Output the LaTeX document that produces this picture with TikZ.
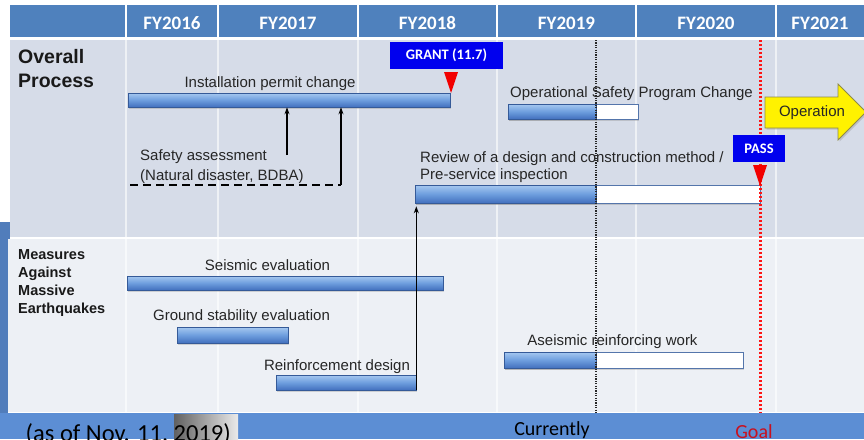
\documentclass[tikz,border=0pt]{standalone}
\usepackage{fontspec}
\setmainfont{Liberation Sans}
\newfontfamily\slidefont{Carlito}
\usetikzlibrary{arrows.meta,shadows}

\definecolor{headblue}{RGB}{79,129,189}
\definecolor{slideblue}{RGB}{92,142,212}
\definecolor{paneltop}{RGB}{214,220,232}
\definecolor{panelbot}{RGB}{237,240,245}
\definecolor{barlight}{RGB}{166,200,240}
\definecolor{barmid}{RGB}{110,158,222}
\definecolor{bardark}{RGB}{66,112,190}
\definecolor{boxblue}{RGB}{0,0,238}
\definecolor{goalred}{RGB}{255,20,20}
\definecolor{goaltext}{RGB}{200,16,30}

\tikzset{
  ganttbar/.style={rectangle, inner sep=0pt, draw=bardark!80!black, line width=0.6,
    top color=barlight, bottom color=bardark, middle color=barmid,
    drop shadow={opacity=0.3, shadow xshift=1pt, shadow yshift=-1.5pt}},
  openbar/.style={rectangle, inner sep=0pt, draw=bardark!70!gray, line width=0.8, fill=white,
    drop shadow={opacity=0.3, shadow xshift=1pt, shadow yshift=-1.5pt}},
  lbl/.style={inner sep=0pt, text=black!85, font=\fontsize{15}{17}\selectfont},
  rowlbl/.style={inner sep=0pt, align=left, anchor=north west, text=black!90},
  headtext/.style={anchor=base, inner sep=0pt, text=white, font=\slidefont\bfseries\fontsize{19}{22}\selectfont},
  tagbox/.style={rectangle, fill=boxblue, inner sep=0pt, text=white, font=\slidefont\bfseries\fontsize{14.5}{17}\selectfont},
  marker/.style={fill=red!95!black},
  feed/.style={-{Stealth[length=7pt,width=5pt]}, line width=1.2},
  nowline/.style={black!85, line width=1.5, dash pattern=on 1.2pt off 1.2pt},
  goalline/.style={goalred, line width=3, dash pattern=on 2.4pt off 1.6pt},
  bottomtext/.style={inner sep=0pt, font=\slidefont\fontsize{20}{24}\selectfont}
}

\begin{document}
\begin{tikzpicture}[x=1pt,y=-1pt]
  \clip (0,0) rectangle (864,439);
  \fill[white] (0,0) rectangle (864,439);
  \fill[slideblue!88!black] (0,222) rectangle (10,439);
  \fill[slideblue] (0,413) rectangle (864,439);
  \shade[left color=black!62, right color=black!8] (174,414) rectangle (238,439);

  \fill[headblue] (10,5) rectangle (864,37);
  \fill[paneltop] (10,40) rectangle (864,237);
  \fill[panelbot] (8,239) rectangle (864,412);
  \draw[white, line width=1.5] (8,412.5) -- (864,412.5);
  \foreach \x in {126,218,358,497,636,776} {
    \draw[white, line width=2] (\x,5) -- (\x,37);
    \draw[white, opacity=.6, line width=1.5] (\x,40) -- (\x,412);
  }
  \foreach \x/\fy in {172/FY2016,288/FY2017,427.5/FY2018,566.5/FY2019,706/FY2020,820/FY2021}
    \node[headtext] at (\x,29) {\fy};

  \node[rowlbl, font=\bfseries\fontsize{19.5}{24}\selectfont] (overall) at (18,49) {Overall\\Process};
  \node[rowlbl, font=\bfseries\fontsize{14.5}{18}\selectfont] (quake) at (18,249) {Measures\\Against\\Massive\\Earthquakes};

  % overall process
  \node[lbl, anchor=base] (permitlbl) at (270,87) {Installation permit change};
  \node[ganttbar, minimum width=322, minimum height=14] (permit) at (289,100) {};
  \node[lbl, anchor=north west, align=left, font=\fontsize{15}{20}\selectfont] (safety) at (140,149)
    {Safety assessment\\(Natural disaster, BDBA)};
  \coordinate (dashstart) at (130,185);
  \coordinate (dashend) at (341,185);
  \coordinate (safetyup) at (287,155);
  \draw[line width=2, dash pattern=on 8pt off 5pt] (dashstart) -- (dashend);
  \draw[feed] (dashend) -- (dashend |- permit.south);
  \draw[feed] (safetyup) -- (safetyup |- permit.south);

  \node[lbl, anchor=base west] (opslbl) at (510,97) {Operational Safety Program Change};
  \node[openbar, minimum width=130, minimum height=15] (ops) at (573,111.5) {};
  \node[ganttbar, minimum width=88, minimum height=15] (opsdone) at (552,111.5) {};

  \node[lbl, anchor=north west, align=left] (reviewlbl) at (420,151)
    {Review of a design and construction method /\\Pre-service inspection};
  \node[openbar, minimum width=345, minimum height=18] (review) at (587.5,194) {};
  \node[ganttbar, minimum width=181, minimum height=18] (reviewdone) at (505.5,194) {};

  % measures against earthquakes
  \node[lbl, anchor=base] (seismiclbl) at (267.5,270) {Seismic evaluation};
  \node[ganttbar, minimum width=316, minimum height=14] (seismic) at (285,283) {};
  \node[lbl, anchor=base] (groundlbl) at (241.5,320) {Ground stability evaluation};
  \node[ganttbar, minimum width=111, minimum height=16] (ground) at (232.5,335) {};
  \node[lbl, anchor=base] (reinflbl) at (337,370) {Reinforcement design};
  \node[ganttbar, minimum width=140, minimum height=15] (reinf) at (346,382.5) {};
  \node[lbl, anchor=base] (aseismiclbl) at (612.5,345) {Aseismic reinforcing work};
  \node[openbar, minimum width=239, minimum height=16] (aseismic) at (623.5,360) {};
  \node[ganttbar, minimum width=92, minimum height=16] (aseismicdone) at (550,360) {};

  \draw[feed, shorten >=3pt] (reinf.south east) -- (reinf.south east |- reviewdone.south);

  % today and goal
  \coordinate (nowtop) at (596,40);
  \coordinate (nowbot) at (596,413);
  \coordinate (goaltop) at (760,40);
  \coordinate (goalbot) at (760,413);
  \draw[nowline] (nowtop) -- (nowbot);
  \draw[goalline] (goaltop) -- (goalbot);

  \node[tagbox, minimum width=113, minimum height=27] (grant) at (446.5,55.5) {GRANT (11.7)};
  \coordinate (granttip) at (451,93);
  \fill[marker] (granttip) -- ++(-7,-21) -- ++(14,0) -- cycle;
  \node[tagbox, minimum width=52, minimum height=27] (pass) at (759,148.5) {PASS};
  \coordinate (passtip) at (760,186);
  \fill[marker] (passtip) -- ++(-7,-21) -- ++(14,0) -- cycle;

  \filldraw[fill=yellow, draw=olive!50!gray, line width=0.8,
    drop shadow={opacity=0.3, shadow xshift=1.5pt, shadow yshift=-1.5pt}]
    (765,97) -- (838,97) -- (838,84) -- (866,112) -- (838,140) -- (838,128) -- (765,128) -- cycle;
  \node[lbl] (operation) at (812,113) {Operation};

  \node[bottomtext, anchor=base east, font=\slidefont\fontsize{24.5}{28}\selectfont] (asof) at (231,441) {(as of Nov. 11, 2019)};
  \node[bottomtext, anchor=base] (now) at (552,435) {Currently};
  \node[bottomtext, anchor=base, text=goaltext] (goal) at (754,438) {Goal};
\end{tikzpicture}
\end{document}
